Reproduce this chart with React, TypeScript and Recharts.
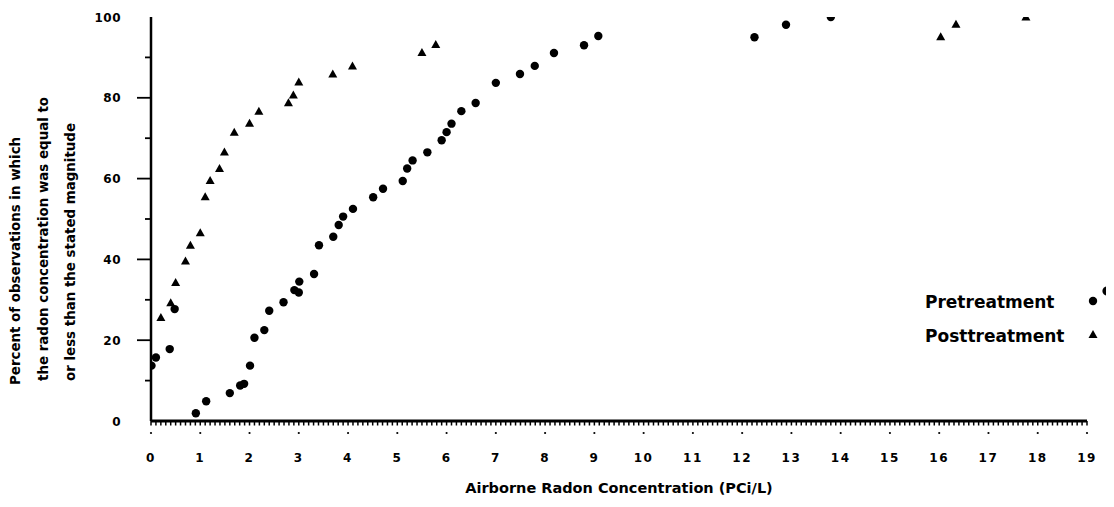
import React from 'react';
import { ScatterChart, Scatter, XAxis, YAxis, Legend, Label } from 'recharts';

// ---- data ----
const pretreatment: [number, number][] = [
  [0.01, 13.7], [0.1, 15.7], [0.38, 17.8], [0.48, 27.7], [0.91, 1.9], [1.12, 4.9],
  [1.6, 6.9], [1.81, 8.8], [1.89, 9.2], [2.01, 13.7], [2.1, 20.6], [2.3, 22.5],
  [2.4, 27.3], [2.69, 29.4], [2.91, 32.4], [3.0, 31.8], [3.01, 34.5], [3.31, 36.4],
  [3.41, 43.5], [3.7, 45.6], [3.81, 48.5], [3.9, 50.6], [4.1, 52.5], [4.51, 55.4],
  [4.71, 57.5], [5.11, 59.4], [5.2, 62.5], [5.31, 64.5], [5.61, 66.5], [5.9, 69.5],
  [6.0, 71.5], [6.1, 73.6], [6.3, 76.7], [6.59, 78.7], [7.0, 83.7], [7.49, 85.9],
  [7.79, 87.9], [8.18, 91.1], [8.79, 93.0], [9.08, 95.3], [12.25, 95.0],
  [12.89, 98.1], [13.8, 100],
];
const posttreatment: [number, number][] = [
  [0.2, 25.6], [0.4, 29.3], [0.5, 34.3], [0.7, 39.6], [0.8, 43.5], [1.0, 46.6],
  [1.1, 55.5], [1.2, 59.5], [1.39, 62.5], [1.49, 66.6], [1.69, 71.5], [2.0, 73.7],
  [2.19, 76.7], [2.79, 78.8], [2.89, 80.7], [3.0, 83.9], [3.69, 85.9], [4.09, 87.9],
  [5.5, 91.2], [5.78, 93.2], [16.03, 95.1], [16.34, 98.2], [17.76, 100],
];
const xTickLabels = [0, 1, 2, 3, 4, 5, 6, 7, 8, 9, 10, 11, 12, 13, 14, 15, 16, 17, 18, 19];
const yTickValues = [0, 10, 20, 30, 40, 50, 60, 70, 80, 90, 100];
const yTickLabels = [0, 20, 40, 60, 80, 100];
const yTitleLines = [
  'Percent of observations in which',
  'the radon concentration was equal to',
  'or less than the stated magnitude',
];
const xTitle = 'Airborne Radon Concentration (PCi/L)';
const legendNames = ['Pretreatment', 'Posttreatment'];

const preData = pretreatment.map(([x, y]) => ({ x, y }));
const postData = posttreatment.map(([x, y]) => ({ x, y }));
const xMinorTicks: number[] = xTickLabels.flatMap((v) =>
  v < 19 ? [0, 1, 2, 3, 4, 5, 6, 7, 8, 9].map((k) => Math.round((v + k / 10) * 10) / 10) : [v]
);

const FONT = '"DejaVu Sans", Verdana, sans-serif';

const XTick = (props: any) => {
  const { x, y, payload } = props;
  const v = payload.value;
  const isInt = Math.abs(v - Math.round(v)) < 1e-6;
  return (
    <g>
      <line x1={x} y1={y} x2={x} y2={y + 4.5} stroke="#000" strokeWidth={1.5} />
      {isInt && <circle cx={x} cy={y + 12} r={1.1} fill="#000" />}
      {isInt && (
        <text x={x} y={y + 41} textAnchor="middle" fontFamily={FONT} fontWeight="bold" fontSize={12} letterSpacing={1.5} fill="#000">
          {Math.round(v)}
        </text>
      )}
    </g>
  );
};

const YTick = (props: any) => {
  const { x, y, payload } = props;
  const v = payload.value;
  const major = v % 20 === 0;
  const len = v === 0 || v === 100 ? 0 : major ? 14 : 6;
  return (
    <g>
      {len > 0 && <line x1={x - len} y1={y} x2={x} y2={y} stroke="#000" strokeWidth={1.8} />}
      {yTickLabels.includes(v) && (
        <text x={x - 30} y={y + 4.5} textAnchor="end" fontFamily={FONT} fontWeight="bold" fontSize={12} letterSpacing={0.5} fill="#000">
          {v}
        </text>
      )}
    </g>
  );
};

const Circle = (props: any) => <circle cx={props.cx} cy={props.cy} r={4.2} fill="#000" />;
const Triangle = (props: any) => {
  const { cx, cy } = props;
  return <path d={`M${cx},${cy - 4.5} L${cx + 4.5},${cy + 3.5} L${cx - 4.5},${cy + 3.5} Z`} fill="#000" />;
};

const LegendBox = () => (
  <svg width={200} height={80} style={{ overflow: 'visible' }}>
    <text x={8} y={30} fontFamily={FONT} fontWeight="bold" fontSize={17} fill="#000">{legendNames[0]}</text>
    <circle cx={176} cy={23} r={4.2} fill="#000" />
    <circle cx={190} cy={13} r={4.6} fill="#000" />
    <text x={8} y={64} fontFamily={FONT} fontWeight="bold" fontSize={17} fill="#000">{legendNames[1]}</text>
    <path d="M176,52 L180.5,60 L171.5,60 Z" fill="#000" />
  </svg>
);

const YTitle = (props: any) => {
  const xs = [7, 35, 62];
  const ys = [377, 373, 373];
  return (
    <g>
      {yTitleLines.map((t, i) => (
        <text key={i} transform={`translate(${xs[i]},${ys[i]}) rotate(-90)`} textAnchor="start" dominantBaseline="central"
          fontFamily={FONT} fontWeight="bold" fontSize={13.4} fill="#000">
          {t}
        </text>
      ))}
    </g>
  );
};

const XTitle = (props: any) => {
  const vb = props.viewBox || {};
  return (
    <text x={vb.x + vb.width / 2} y={vb.y + 72} textAnchor="middle" fontFamily={FONT} fontWeight="bold" fontSize={14.5} fill="#000">
      {xTitle}
    </text>
  );
};

export default function App() {
  return (
    <div style={{ width: 1106, height: 499, background: '#fff' }}>
      <ScatterChart width={1106} height={499} margin={{ top: 9, right: 27, bottom: 0, left: 0 }}>
        <XAxis
          dataKey="x"
          type="number"
          domain={[0, 19]}
          ticks={xMinorTicks}
          interval={0}
          tickLine={false}
          tickSize={0}
          tickMargin={0}
          height={86}
          axisLine={{ stroke: '#000', strokeWidth: 3 }}
          tick={XTick}
          allowDataOverflow
        >
          <Label content={XTitle} />
        </XAxis>
        <YAxis
          dataKey="y"
          type="number"
          domain={[0, 100]}
          ticks={yTickValues}
          interval={0}
          tickLine={false}
          tickSize={0}
          tickMargin={0}
          width={143}
          axisLine={{ stroke: '#000', strokeWidth: 2.5 }}
          tick={YTick}
          allowDataOverflow
        >
          <Label content={YTitle} />
        </YAxis>
        <Scatter name={legendNames[0]} data={preData} shape={Circle} isAnimationActive={false} />
        <Scatter name={legendNames[1]} data={postData} shape={Triangle} isAnimationActive={false} />
        <Legend
          layout="horizontal"
          verticalAlign="middle"
          align="center"
          content={LegendBox}
          wrapperStyle={{ position: 'absolute', left: 909, top: 270, width: 200, height: 80 }}
        />
      </ScatterChart>
    </div>
  );
}
